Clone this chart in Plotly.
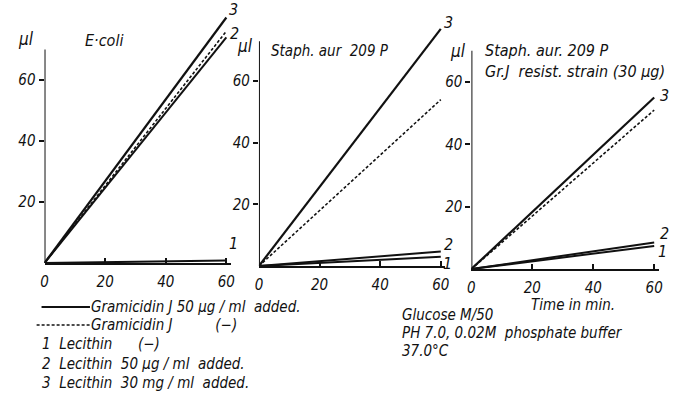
import plotly.graph_objects as go

W, H = 676, 393

# ---- data ----
time_min = [0, 60]
# panel 1: E. coli
ecoli_solid_1 = [0, 0.8]
ecoli_solid_2 = [0, 74]
ecoli_solid_3 = [0, 80.5]
ecoli_dashed = [0, 76]
# panel 2: Staph. aur 209 P
staph_solid_1 = [0, 3.0]
staph_solid_2 = [0, 4.7]
staph_solid_3 = [0, 77]
staph_dashed = [0, 54]
# panel 3: Staph. aur. 209 P, Gr.J resistant strain
resist_solid_1 = [0, 7.4]
resist_solid_2 = [0, 8.5]
resist_solid_3 = [0, 55]
resist_dashed = [0, 51]

x_ticks = [0, 20, 40, 60]
x_tick_text = ["0", "20", "40", "60"]
y_ticks = [20, 40, 60]
y_tick_text = ["20", "40", "60"]

panel_titles = ["E·coli", "Staph. aur  209 P", "Staph. aur. 209 P<br>Gr.J  resist. strain (30 μg)"]
legend_solid = "Gramicidin J 50 μg / ml  added."
legend_dashed = "Gramicidin J          (−)"
legend_items = ["1  Lecithin      (−)",
                "2  Lecithin  50 μg / ml  added.",
                "3  Lecithin  30 mg / ml  added."]
conditions = ["Glucose M/50", "PH 7.0, 0.02M  phosphate buffer", "37.0°C"]
x_title = "Time in min."

FONT = "Liberation Sans Narrow, DejaVu Sans Condensed, Arial Narrow, sans-serif"
INK = "#111111"

def px(x):
    return x / W

def py(y):
    return 1 - y / H

# panel geometry in pixels: (x0px at t=0, px per min, y0px at value 0, px per unit)
panels = [
    dict(x0=41, sx=3.067, y0=263, sy=3.05, ytop=70),
    dict(x0=258, sx=3.067, y0=266, sy=3.08, ytop=73),
    dict(x0=473, sx=3.083, y0=269, sy=3.117, ytop=70),
]
XMAX, YMAX = 61.5, 84

series = [
    (ecoli_solid_1, ecoli_solid_2, ecoli_solid_3, ecoli_dashed),
    (staph_solid_1, staph_solid_2, staph_solid_3, staph_dashed),
    (resist_solid_1, resist_solid_2, resist_solid_3, resist_dashed),
]

fig = go.Figure()
annotations = []
shapes = []

for i, (p, s) in enumerate(zip(panels, series)):
    n = "" if i == 0 else str(i + 1)
    xa, ya = "x" + n, "y" + n
    dom_x = [px(p["x0"]), px(p["x0"] + XMAX * p["sx"])]
    dom_y = [py(p["y0"]), py(p["y0"] - YMAX * p["sy"])]
    fig.layout["xaxis" + n] = dict(
        domain=dom_x, range=[0, XMAX], anchor=ya,
        showgrid=False, zeroline=False, showline=True, linecolor=INK, linewidth=2,
        ticks="inside", ticklen=5, tickwidth=1.5, tickcolor=INK,
        tickvals=x_ticks, ticktext=x_tick_text, ticklabelstandoff=4,
        tickfont=dict(family=FONT, size=15, color=INK, style="italic"),
    )
    fig.layout["yaxis" + n] = dict(
        domain=dom_y, range=[0, YMAX], anchor=xa,
        showgrid=False, zeroline=False, showline=False,
        ticks="outside", ticklen=5, tickwidth=1.5, tickcolor=INK,
        tickvals=y_ticks, ticktext=y_tick_text,
        tickfont=dict(family=FONT, size=15, color=INK, style="italic"),
    )
    # y axis line (shorter than the plot area, like the original)
    shapes.append(dict(type="line", xref=xa, yref=ya, x0=0, x1=0, y0=0, y1=p["ytop"],
                       line=dict(color=INK, width=2)))
    s1, s2, s3, sd = s
    for vals, w in ((s1, 2), (s2, 2), (s3, 2.2)):
        fig.add_trace(go.Scatter(x=time_min, y=vals, mode="lines", xaxis=xa, yaxis=ya,
                                 line=dict(color=INK, width=w), showlegend=False,
                                 hoverinfo="skip"))
    fig.add_trace(go.Scatter(x=time_min, y=sd, mode="lines", xaxis=xa, yaxis=ya,
                             line=dict(color=INK, width=1.6, dash="3px,2px"),
                             showlegend=False, hoverinfo="skip"))
    # curve labels
    lab_font = dict(family=FONT, size=16, color=INK, style="italic")
    if i == 0:
        offs = [(7, 17), (8, 4), (7, 8)]
    elif i == 1:
        offs = [(7, -7), (8, 7), (8, 6)]
    else:
        offs = [(8, -6), (10, 9), (10, 2)]
    for (vals, lab, (dx, dy)) in zip((s1, s2, s3), ("1", "2", "3"), offs):
        annotations.append(dict(x=time_min[-1], y=vals[-1], xref=xa, yref=ya, text=lab,
                                showarrow=False, xshift=dx, yshift=dy, font=lab_font))

txt_font = dict(family=FONT, size=15, color=INK, style="italic")
title_font = dict(family=FONT, size=16, color=INK, style="italic")

# unit labels "μl"
for (ux, uy) in ((22, 39), (244, 46), (459, 51)):
    annotations.append(dict(x=px(ux), y=py(uy), xref="paper", yref="paper", text="μl",
                            showarrow=False, xanchor="center", yanchor="middle",
                            font=dict(family=FONT, size=17, color=INK, style="italic")))

# panel titles
annotations.append(dict(x=px(80), y=py(40), xref="paper", yref="paper", text=panel_titles[0],
                        showarrow=False, xanchor="left", yanchor="middle", font=title_font))
annotations.append(dict(x=px(268), y=py(51), xref="paper", yref="paper", text=panel_titles[1],
                        showarrow=False, xanchor="left", yanchor="middle", font=txt_font))
annotations.append(dict(x=px(485), y=py(61), xref="paper", yref="paper", text=panel_titles[2],
                        showarrow=False, xanchor="left", yanchor="middle", align="left",
                        font=title_font))

# x axis title
annotations.append(dict(x=px(576), y=py(305), xref="paper", yref="paper", text=x_title,
                        showarrow=False, xanchor="center", yanchor="middle", font=txt_font))

# legend block
annotations.append(dict(x=px(86), y=py(307), xref="paper", yref="paper", text=legend_solid,
                        showarrow=False, xanchor="left", yanchor="middle", font=txt_font))
annotations.append(dict(x=px(86), y=py(325), xref="paper", yref="paper", text=legend_dashed,
                        showarrow=False, xanchor="left", yanchor="middle", font=txt_font))
shapes.append(dict(type="line", xref="paper", yref="paper", x0=px(38), x1=px(87),
                   y0=py(307), y1=py(307), line=dict(color=INK, width=2)))
shapes.append(dict(type="line", xref="paper", yref="paper", x0=px(33), x1=px(87),
                   y0=py(325), y1=py(325), line=dict(color=INK, width=1.5, dash="3px,2px")))
for k, item in enumerate(legend_items):
    annotations.append(dict(x=px(36), y=py(344 + 19.5 * k), xref="paper", yref="paper",
                            text=item, showarrow=False, xanchor="left", yanchor="middle",
                            font=txt_font))

# conditions block
cond_y = [315, 333, 351]
for txt, yy in zip(conditions, cond_y):
    annotations.append(dict(x=px(401), y=py(yy), xref="paper", yref="paper",
                            text=txt, showarrow=False, xanchor="left",
                            yanchor="middle", font=txt_font))

fig.update_layout(
    width=W, height=H,
    margin=dict(l=0, r=0, t=0, b=0),
    paper_bgcolor="white", plot_bgcolor="rgba(0,0,0,0)",
    showlegend=False,
    annotations=annotations,
    shapes=shapes,
    font=dict(family=FONT, color=INK),
)

fig.write_html(
    "out.html",
    config={"displayModeBar": False},
    post_script="document.body.style.margin='0';document.body.style.overflow='hidden';",
)
